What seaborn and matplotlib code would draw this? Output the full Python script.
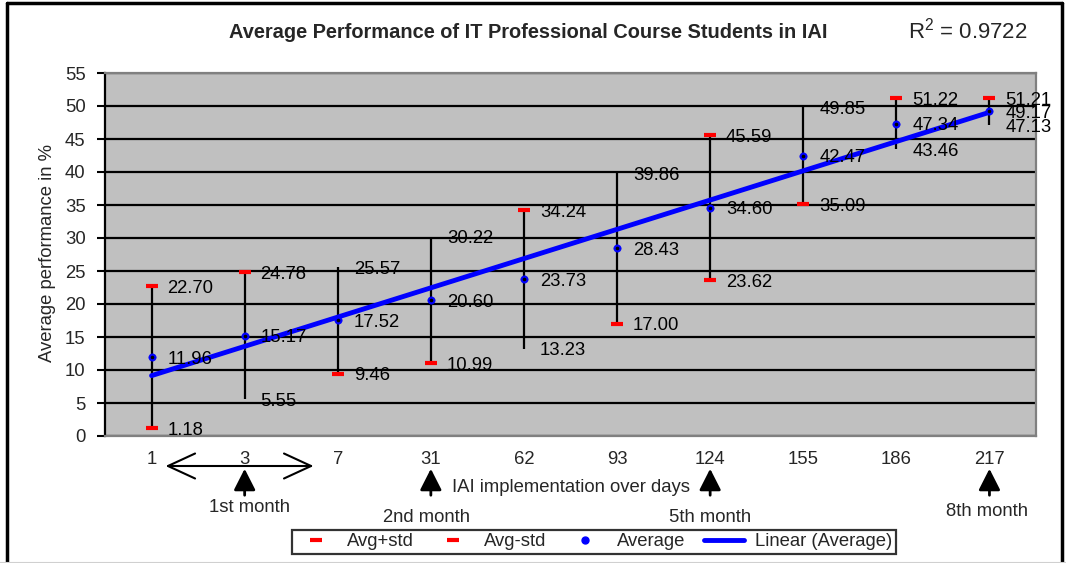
import numpy as np
import pandas as pd
import matplotlib
matplotlib.use("Agg")
import matplotlib.pyplot as plt
import matplotlib.transforms as mtransforms
from matplotlib.lines import Line2D
from matplotlib.patches import FancyArrowPatch
import seaborn as sns

# Data
days = ["1", "3", "7", "31", "62", "93", "124", "155", "186", "217"]
avg_plus_std = [22.70, 24.78, 25.57, 30.22, 34.24, 39.86, 45.59, 49.85, 51.22, 51.21]
average = [11.96, 15.17, 17.52, 20.60, 23.73, 28.43, 34.60, 42.47, 47.34, 49.17]
avg_minus_std = [1.18, 5.55, 9.46, 10.99, 13.23, 17.00, 23.62, 35.09, 43.46, 47.13]
# which red std markers are visible in the original
plus_marker_shown = [True, True, False, False, True, False, True, False, True, True]
minus_marker_shown = [True, False, True, True, False, True, True, True, False, False]
r_squared = "0.9722"

month_labels = ["1st month", "2nd month", "5th month", "8th month"]
month_index = [1, 3, 6, 9]

sns.set_style("white")
plt.rcParams["font.family"] = ["Liberation Sans", "DejaVu Sans"]
plt.rcParams["mathtext.fontset"] = "custom"
plt.rcParams["mathtext.rm"] = "Liberation Sans"

W, H = 1066, 563
fig = plt.figure(figsize=(W / 100, H / 100), dpi=100)
ax = fig.add_axes([105 / W, 1 - 436 / H, 931 / W, 363 / H])
ax.set_facecolor("#C0C0C0")

df = pd.DataFrame({
    "idx": np.arange(len(days)),
    "day": days,
    "plus": avg_plus_std,
    "avg": average,
    "minus": avg_minus_std,
})

# high-low lines
ax.vlines(df["idx"], df["minus"], df["plus"], color="black", lw=1.6, zorder=3)

# linear trend on the category index (as Excel does)
coef = np.polyfit(df["idx"] + 1, df["avg"], 1)
df["trend"] = np.polyval(coef, df["idx"] + 1)
sns.lineplot(data=df, x="idx", y="trend", color="#0000FF", lw=3.5, ax=ax, zorder=4)

# std markers
plus_df = df[plus_marker_shown]
minus_df = df[minus_marker_shown]
for sub, col in [(plus_df, "plus"), (minus_df, "minus")]:
    ax.plot(sub["idx"], sub[col], ls="none", marker="_", ms=8, mew=3,
            color="#FF0000", zorder=5)

# average points
sns.scatterplot(data=df, x="idx", y="avg", color="#0000FF", s=28, edgecolor="#0000FF",
                ax=ax, zorder=6)
ax.scatter(df["idx"], df["avg"], color="black", s=2.5, zorder=7)

# data labels
for col in ["plus", "avg", "minus"]:
    for i, v in zip(df["idx"], df[col]):
        ax.annotate(f"{v:.2f}", (i, v), xytext=(11.5, -1.5), textcoords="offset points",
                    ha="left", va="center", fontsize=13.3, color="black", zorder=8,
                    annotation_clip=False)

ax.set_xlim(-0.5, len(days) - 0.5)
ax.set_ylim(0, 55)
ax.set_yticks(np.arange(0, 56, 5))
ax.set_xticks(df["idx"])
ax.set_xticklabels(days)
ax.tick_params(axis="x", length=0, pad=11, labelsize=13.3)
ax.tick_params(axis="y", length=6, width=1.5, color="black", direction="out",
               pad=8, labelsize=13.3, left=True)
ax.yaxis.grid(True, color="black", lw=1.6)
ax.set_axisbelow(True)
ax.set_xlabel("")
ax.set_ylabel("")
for side in ["top", "right", "bottom"]:
    ax.spines[side].set_color("#808080")
    ax.spines[side].set_linewidth(1.6)
ax.spines["left"].set_color("black")
ax.spines["left"].set_linewidth(1.6)

# outer chart border (bottom is cut off in the original)
border = dict(color="black", lw=2.5, transform=fig.transFigure)
fig.add_artist(Line2D([6.5 / W, 6.5 / W], [0, 1 - 3 / H], **border))
fig.add_artist(Line2D([6.5 / W, 1062 / W], [1 - 3 / H, 1 - 3 / H], **border))
fig.add_artist(Line2D([1062 / W, 1062 / W], [0, 1 - 3 / H], **border))
fig.add_artist(Line2D([0, 1], [0.5 / H, 0.5 / H], color="#D0D0D0", lw=1.5,
                      transform=fig.transFigure))

# titles and axis labels
fig.text(528 / W, 1 - 33 / H, "Average Performance of IT Professional Course Students in IAI",
         ha="center", va="center", fontsize=14.4, fontweight="bold")
fig.text(908 / W, 1 - 31 / H, r"R$^\mathregular{2}$ = " + r_squared,
         ha="left", va="center", fontsize=16)
fig.text(48 / W, 1 - 253 / H, "Average performance in %", rotation=90,
         ha="center", va="center", fontsize=13.3)
fig.text(571 / W, 1 - 487 / H, "IAI implementation over days",
         ha="center", va="center", fontsize=13.3)

# month arrows and labels
blend = mtransforms.blended_transform_factory(ax.transData, fig.transFigure)
label_y = [507, 517, 517, 511]
label_dx = [0.05, -0.05, 0.0, -0.03]
for name, i, ly, dx in zip(month_labels, month_index, label_y, label_dx):
    arr = FancyArrowPatch((i, 1 - 498 / H), (i, 1 - 466 / H), transform=blend,
                          arrowstyle="-|>,head_length=0.65,head_width=0.33",
                          mutation_scale=20, lw=2, color="black")
    fig.add_artist(arr)
    fig.text(i + dx, 1 - ly / H, name, transform=blend, ha="center",
             va="center", fontsize=13.3)

dbl = FancyArrowPatch((0.12, 1 - 466 / H), (1.77, 1 - 466 / H), transform=blend,
                      arrowstyle="<->,head_length=1.3,head_width=0.6",
                      mutation_scale=15, lw=1.5, color="black")
fig.add_artist(dbl)

# legend
handles = [
    Line2D([], [], ls="none", marker="_", ms=8, mew=3, color="#FF0000"),
    Line2D([], [], ls="none", marker="_", ms=8, mew=3, color="#FF0000"),
    Line2D([], [], ls="none", marker="o", ms=5, color="#0000FF"),
    Line2D([], [], color="#0000FF", lw=3.5),
]
leg = fig.legend(handles, ["Avg+std", "Avg-std", "Average", "Linear (Average)"],
                 loc="center", bbox_to_anchor=(594 / W, 1 - 542 / H), ncol=4,
                 fontsize=13.3, frameon=True, fancybox=False, handlelength=2.2,
                 columnspacing=1.0, handletextpad=0.6, borderpad=0.2)
leg.get_frame().set_edgecolor("black")
leg.get_frame().set_linewidth(1.6)

fig.savefig("out.png", dpi=100, facecolor="white")
